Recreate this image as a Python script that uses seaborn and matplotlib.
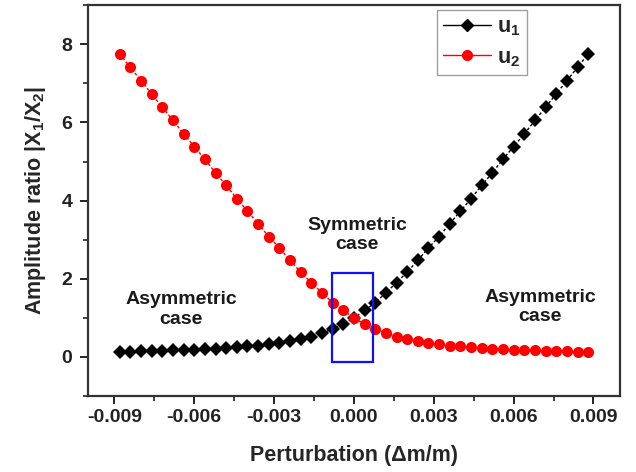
import numpy as np
import pandas as pd
import matplotlib
matplotlib.use("Agg")
import matplotlib.pyplot as plt
from matplotlib.lines import Line2D
from matplotlib.patches import Rectangle
from matplotlib.ticker import MultipleLocator, FormatStrFormatter
import seaborn as sns

# perturbation values (dm/m), 45 points from -0.0088 to 0.0088
perturbation = [-0.0088, -0.0084, -0.0080, -0.0076, -0.0072, -0.0068, -0.0064, -0.0060,
                -0.0056, -0.0052, -0.0048, -0.0044, -0.0040, -0.0036, -0.0032, -0.0028,
                -0.0024, -0.0020, -0.0016, -0.0012, -0.0008, -0.0004, 0.0000, 0.0004,
                0.0008, 0.0012, 0.0016, 0.0020, 0.0024, 0.0028, 0.0032, 0.0036,
                0.0040, 0.0044, 0.0048, 0.0052, 0.0056, 0.0060, 0.0064, 0.0068,
                0.0072, 0.0076, 0.0080, 0.0084, 0.0088]

# amplitude ratio
u1 = [0.13, 0.135, 0.14, 0.15, 0.155, 0.165, 0.175, 0.19, 0.20, 0.21, 0.23, 0.25,
      0.27, 0.29, 0.32, 0.36, 0.40, 0.46, 0.52, 0.61, 0.71, 0.84, 1.00, 1.19,
      1.39, 1.64, 1.90, 2.17, 2.47, 2.79, 3.08, 3.41, 3.73, 4.05, 4.39, 4.71,
      5.06, 5.38, 5.71, 6.05, 6.39, 6.73, 7.07, 7.41, 7.75]
u2 = [7.75, 7.41, 7.07, 6.73, 6.39, 6.05, 5.71, 5.38, 5.06, 4.71, 4.39, 4.05,
      3.73, 3.41, 3.08, 2.79, 2.47, 2.17, 1.90, 1.64, 1.39, 1.19, 1.00, 0.84,
      0.71, 0.61, 0.52, 0.46, 0.40, 0.36, 0.32, 0.29, 0.27, 0.25, 0.23, 0.21,
      0.20, 0.19, 0.175, 0.165, 0.155, 0.15, 0.14, 0.135, 0.13]

df = pd.DataFrame({"x": perturbation, "u1": u1, "u2": u2})

sns.set_style("ticks")
plt.rcParams["font.family"] = ["Liberation Sans", "DejaVu Sans"]
plt.rcParams["font.weight"] = "bold"
plt.rcParams["mathtext.fontset"] = "custom"
plt.rcParams["mathtext.rm"] = "Liberation Sans:bold"
plt.rcParams["mathtext.bf"] = "Liberation Sans:bold"
plt.rcParams["mathtext.default"] = "bf"

fig = plt.figure(figsize=(6.36, 4.72), dpi=100)
ax = fig.add_axes([0.138, 0.161, 0.837, 0.828])

# data lines
sns.lineplot(data=df, x="x", y="u1", ax=ax, color="black", marker="D", markersize=7.5,
             markeredgewidth=0, linewidth=1, linestyle=(0, (2, 1.5)))
sns.lineplot(data=df, x="x", y="u2", ax=ax, color="#ff0000", marker="o", markersize=8,
             markeredgewidth=0, linewidth=1, linestyle=(0, (2, 1.5)))

# symmetric region box
ax.add_patch(Rectangle((-0.00084, -0.13), 0.00154, 2.28, fill=False,
                       edgecolor="#1010ff", linewidth=1.6, zorder=5))

txt = dict(fontsize=14, fontweight="bold", color="#1a1a1a", ha="center", va="center")
ax.text(0.00011, 3.12, "Symmetric\ncase", **txt)
ax.text(-0.0065, 1.21, "Asymmetric\ncase", **txt)
ax.text(0.0070, 1.28, "Asymmetric\ncase", **txt)

ax.set_xlim(-0.01, 0.01)
ax.set_ylim(-1, 9)
ax.xaxis.set_major_locator(MultipleLocator(0.003))
ax.xaxis.set_minor_locator(MultipleLocator(0.0015))
ax.xaxis.set_major_formatter(FormatStrFormatter("%.3f"))
ax.yaxis.set_major_locator(MultipleLocator(2))
ax.yaxis.set_minor_locator(MultipleLocator(1))
ax.tick_params(which="major", length=6, width=1.4, labelsize=14, colors="#222222")
ax.tick_params(axis="x", which="major", pad=3)
ax.tick_params(axis="y", which="major", pad=5)
ax.tick_params(which="minor", length=3.5, width=1.2, colors="#222222")
for s in ax.spines.values():
    s.set_linewidth(1.6)
    s.set_color("#333333")

ax.set_xlabel("Perturbation (\u0394m/m)", fontsize=15.5, fontweight="bold", labelpad=14)
ax.set_ylabel(r"Amplitude ratio |X$_1$/X$_2$|", fontsize=15.5, fontweight="bold", labelpad=10)

handles = [Line2D([], [], color="black", marker="D", markersize=6, linewidth=1),
           Line2D([], [], color="#ff0000", marker="o", markersize=7, linewidth=1)]
leg = ax.legend(handles, [r"u$_1$", r"u$_2$"], loc="upper left",
                bbox_to_anchor=(0.656, 0.987), fontsize=15.5, handlelength=2.2,
                frameon=True, fancybox=False, borderpad=0.3, labelspacing=0.4,
                handletextpad=0.3, borderaxespad=0)
leg.get_frame().set_edgecolor("#888888")
leg.get_frame().set_linewidth(1)

fig.savefig("out.png", dpi=100)
